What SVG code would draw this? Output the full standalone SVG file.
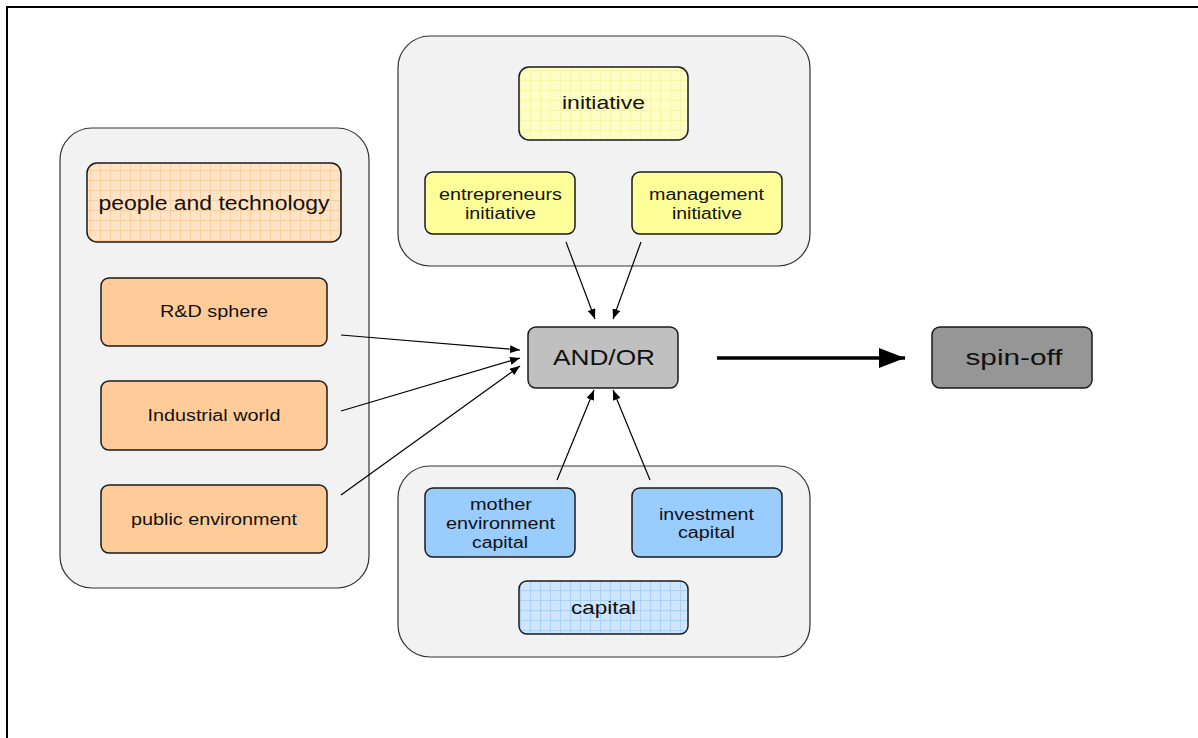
<svg xmlns="http://www.w3.org/2000/svg" width="1198" height="738" viewBox="0 0 1198 738">
<style>
.grp{fill:#f2f2f2;stroke:#333;stroke-width:1.2}
.nd{stroke:#1a1a1a;stroke-width:1.5}
.or{fill:#ffcc99}
.ye{fill:#ffff99}
.bl{fill:#99ccff}
.t{font-family:"Liberation Sans",Arial,sans-serif;fill:#111;text-anchor:middle}
.s15{font-size:16px}
.con{stroke:#000;stroke-width:1.2;fill:none}
</style>
<defs>
<pattern id="gO" width="10" height="10" patternUnits="userSpaceOnUse">
<rect width="10" height="10" fill="#fde3c8"/>
<path d="M0 0.5H10M0.5 0V10" stroke="#fccf9f" stroke-width="1"/>
</pattern>
<pattern id="gY" width="10" height="10" patternUnits="userSpaceOnUse">
<rect width="10" height="10" fill="#fdfdc8"/>
<path d="M0 0.5H10M0.5 0V10" stroke="#f6f6a6" stroke-width="1"/>
</pattern>
<pattern id="gB" width="10" height="10" patternUnits="userSpaceOnUse">
<rect width="10" height="10" fill="#cfe5fb"/>
<path d="M0 0.5H10M0.5 0V10" stroke="#a9d2fb" stroke-width="1"/>
</pattern>
<marker id="ah" markerWidth="10" markerHeight="8" refX="10" refY="4" orient="auto" markerUnits="userSpaceOnUse">
<path d="M0 0L10 4L0 8Z" fill="#000"/>
</marker>
<marker id="ahB" markerWidth="26" markerHeight="20" refX="26" refY="10" orient="auto" markerUnits="userSpaceOnUse">
<path d="M0 0L26 10L0 20Z" fill="#000"/>
</marker>
</defs>
<rect width="1198" height="738" fill="#fff"/>
<path d="M7 738V7H1198" fill="none" stroke="#000" stroke-width="2"/>

<g id="group-left"><rect class="grp" x="60" y="128" width="309" height="460" rx="32"/></g>
<g id="group-top"><rect class="grp" x="398" y="36" width="412" height="230" rx="32"/></g>
<g id="group-bottom"><rect class="grp" x="398" y="466" width="412" height="191" rx="32"/></g>

<g id="people-and-technology"><rect class="nd" fill="url(#gO)" x="87" y="163" width="254" height="79" rx="10"/><text class="t" x="214" y="210" font-size="20" textLength="231" lengthAdjust="spacingAndGlyphs">people and technology</text></g>
<g id="rd-sphere"><rect class="nd or" x="101" y="278" width="226" height="68" rx="8"/><text class="t s15" x="214" y="317" textLength="108" lengthAdjust="spacingAndGlyphs">R&amp;D sphere</text></g>
<g id="industrial-world"><rect class="nd or" x="101" y="381" width="226" height="69" rx="8"/><text class="t s15" x="214" y="421" textLength="133" lengthAdjust="spacingAndGlyphs">Industrial world</text></g>
<g id="public-environment"><rect class="nd or" x="101" y="485" width="226" height="68" rx="8"/><text class="t s15" x="214" y="525" textLength="166" lengthAdjust="spacingAndGlyphs">public environment</text></g>

<g id="initiative"><rect class="nd" fill="url(#gY)" x="519" y="67" width="169" height="73" rx="10"/><text class="t" x="603.5" y="109" font-size="19" textLength="83" lengthAdjust="spacingAndGlyphs">initiative</text></g>
<g id="entrepreneurs-initiative"><rect class="nd ye" x="425" y="172" width="150" height="62" rx="8"/><text class="t s15" x="500.5" y="200" textLength="123" lengthAdjust="spacingAndGlyphs">entrepreneurs</text><text class="t s15" x="500.5" y="219" textLength="71" lengthAdjust="spacingAndGlyphs">initiative</text></g>
<g id="management-initiative"><rect class="nd ye" x="632" y="172" width="150" height="62" rx="8"/><text class="t s15" x="706.5" y="200" textLength="115" lengthAdjust="spacingAndGlyphs">management</text><text class="t s15" x="707" y="219" textLength="70" lengthAdjust="spacingAndGlyphs">initiative</text></g>

<g id="and-or"><rect class="nd" fill="#c0c0c0" x="528" y="327" width="150" height="61" rx="8"/><text class="t" x="604" y="365" font-size="22" textLength="102" lengthAdjust="spacingAndGlyphs">AND/OR</text></g>
<g id="spin-off"><rect class="nd" fill="#969696" x="932" y="327" width="160" height="61" rx="8"/><text class="t" x="1014" y="365" font-size="22" textLength="97" lengthAdjust="spacingAndGlyphs">spin-off</text></g>

<g id="mother-environment-capital"><rect class="nd bl" x="425" y="488" width="150" height="69" rx="8"/><text class="t s15" x="501" y="510" textLength="62" lengthAdjust="spacingAndGlyphs">mother</text><text class="t s15" x="500.5" y="529" textLength="109" lengthAdjust="spacingAndGlyphs">environment</text><text class="t s15" x="500" y="548" textLength="56" lengthAdjust="spacingAndGlyphs">capital</text></g>
<g id="investment-capital"><rect class="nd bl" x="632" y="488" width="150" height="69" rx="8"/><text class="t s15" x="706.5" y="520" textLength="95" lengthAdjust="spacingAndGlyphs">investment</text><text class="t s15" x="706.5" y="538" textLength="57" lengthAdjust="spacingAndGlyphs">capital</text></g>
<g id="capital"><rect class="nd" fill="url(#gB)" x="519" y="581" width="169" height="53" rx="8"/><text class="t" x="603.5" y="614" font-size="19" textLength="65" lengthAdjust="spacingAndGlyphs">capital</text></g>

<g id="connectors">
<line class="con" x1="341" y1="335" x2="520" y2="350" marker-end="url(#ah)"/>
<line class="con" x1="341" y1="411" x2="520" y2="358" marker-end="url(#ah)"/>
<line class="con" x1="341" y1="495" x2="520" y2="366" marker-end="url(#ah)"/>
<line class="con" x1="566" y1="242" x2="595" y2="319" marker-end="url(#ah)"/>
<line class="con" x1="641" y1="242" x2="613" y2="319" marker-end="url(#ah)"/>
<line class="con" x1="557" y1="480" x2="594" y2="390" marker-end="url(#ah)"/>
<line class="con" x1="650" y1="480" x2="613" y2="390" marker-end="url(#ah)"/>
<line x1="717" y1="358" x2="905" y2="358" stroke="#000" stroke-width="3.5" marker-end="url(#ahB)"/>
</g>
</svg>
